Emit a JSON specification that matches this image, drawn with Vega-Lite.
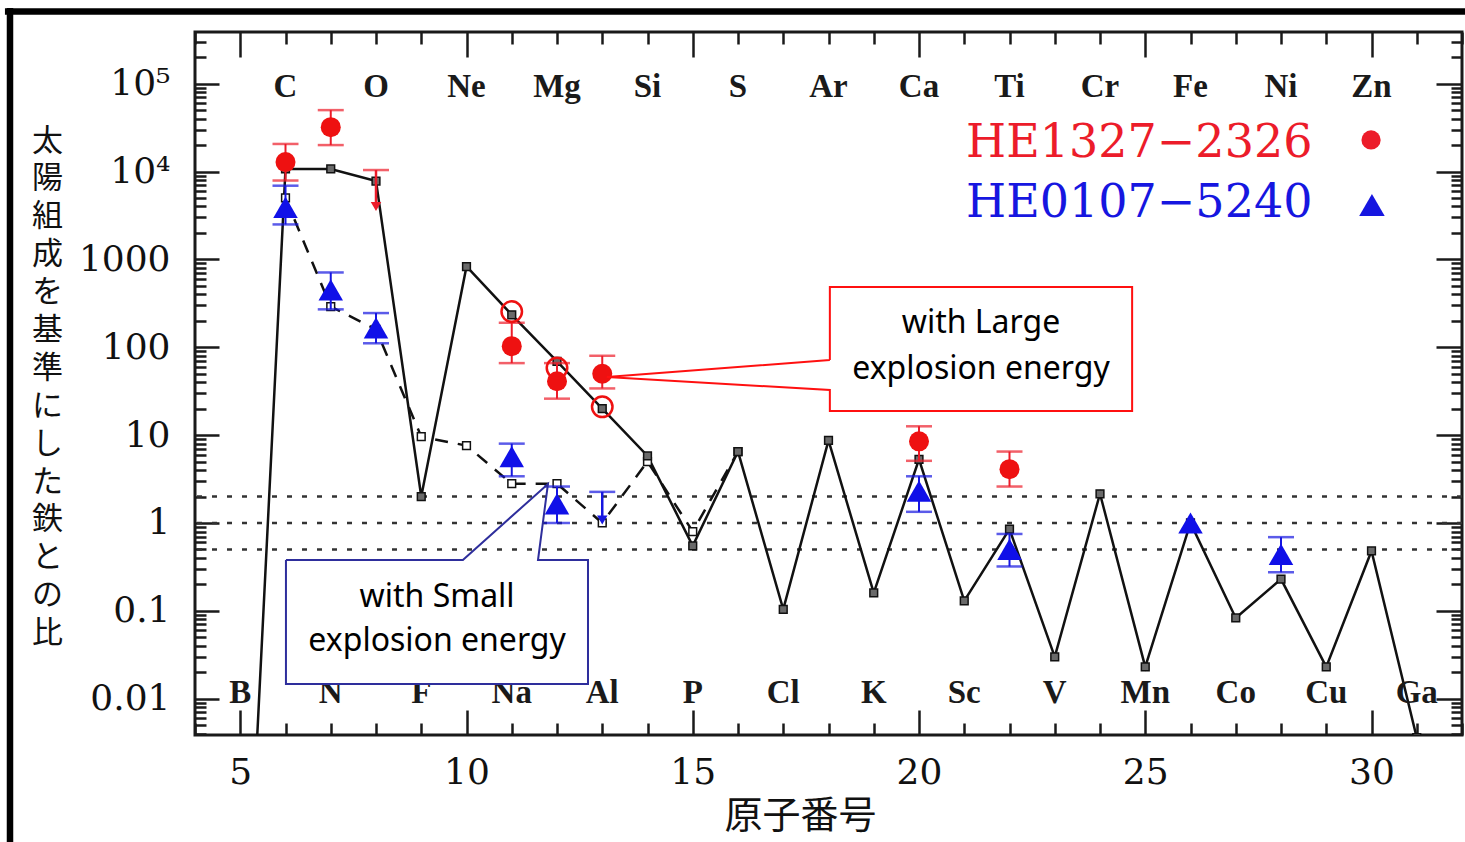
{
  "$schema": "https://vega.github.io/schema/vega-lite/v6.json",
  "width": 1267,
  "height": 703,
  "autosize": "none",
  "padding": {"left": 195, "top": 32, "right": 3, "bottom": 107},
  "background": "white",
  "config": {"view": {"stroke": "#1a1a1a", "strokeWidth": 3}},
  "datasets": {
    "hl": [{"v": 2}, {"v": 1}, {"v": 0.5}],
    "model": [
      {"Z": 6, "v": 5000, "m": "small"}, {"Z": 7, "v": 290, "m": "small"},
      {"Z": 8, "v": 160, "m": "small"}, {"Z": 9, "v": 9.6, "m": "small"}, {"Z": 10, "v": 7.6, "m": "small"},
      {"Z": 11, "v": 2.8, "m": "small"}, {"Z": 12, "v": 2.8, "m": "small"}, {"Z": 13, "v": 1.0, "m": "small"},
      {"Z": 14, "v": 5.0, "m": "small"}, {"Z": 15, "v": 0.8, "m": "small"}, {"Z": 16, "v": 6.5, "m": "small"},
      {"Z": 5, "v": 5e-7, "m": "large"}, {"Z": 6, "v": 10700, "m": "large"}, {"Z": 7, "v": 10700, "m": "large"},
      {"Z": 8, "v": 7800, "m": "large"}, {"Z": 9, "v": 2.0, "m": "large"}, {"Z": 10, "v": 830, "m": "large"},
      {"Z": 11, "v": 234, "m": "large"}, {"Z": 12, "v": 69, "m": "large"}, {"Z": 13, "v": 20, "m": "large"},
      {"Z": 14, "v": 5.8, "m": "large"}, {"Z": 15, "v": 0.55, "m": "large"}, {"Z": 16, "v": 6.5, "m": "large"},
      {"Z": 17, "v": 0.104, "m": "large"}, {"Z": 18, "v": 8.7, "m": "large"}, {"Z": 19, "v": 0.16, "m": "large"},
      {"Z": 20, "v": 5.3, "m": "large"}, {"Z": 21, "v": 0.13, "m": "large"}, {"Z": 22, "v": 0.85, "m": "large"},
      {"Z": 23, "v": 0.030, "m": "large"}, {"Z": 24, "v": 2.15, "m": "large"}, {"Z": 25, "v": 0.023, "m": "large"},
      {"Z": 26, "v": 1.0, "m": "large"}, {"Z": 27, "v": 0.083, "m": "large"}, {"Z": 28, "v": 0.23, "m": "large"},
      {"Z": 29, "v": 0.023, "m": "large"}, {"Z": 30, "v": 0.48, "m": "large"}, {"Z": 31, "v": 0.0036, "m": "large"}
    ],
    "obs": [
      {"Z": 6, "v": 12800, "lo": 7900, "hi": 20600, "star": "HE1327-2326", "kind": "det"},
      {"Z": 7, "v": 32000, "lo": 20000, "hi": 50000, "star": "HE1327-2326", "kind": "det"},
      {"Z": 8, "v": 10400, "tip": 4000, "star": "HE1327-2326", "kind": "upper"},
      {"Z": 11, "v": 103, "lo": 66, "hi": 190, "star": "HE1327-2326", "kind": "det"},
      {"Z": 12, "v": 41, "lo": 26, "hi": 66, "star": "HE1327-2326", "kind": "det"},
      {"Z": 13, "v": 50, "lo": 34, "hi": 80, "star": "HE1327-2326", "kind": "det"},
      {"Z": 20, "v": 8.5, "lo": 5.1, "hi": 12.6, "star": "HE1327-2326", "kind": "det"},
      {"Z": 22, "v": 4.1, "lo": 2.6, "hi": 6.5, "star": "HE1327-2326", "kind": "det"},
      {"Z": 11, "v": 255, "star": "HE1327-2326", "kind": "alt"},
      {"Z": 12, "v": 58, "star": "HE1327-2326", "kind": "alt"},
      {"Z": 13, "v": 21, "star": "HE1327-2326", "kind": "alt"},
      {"Z": 6, "v": 3900, "lo": 2500, "hi": 6900, "star": "HE0107-5240", "kind": "det"},
      {"Z": 7, "v": 450, "lo": 270, "hi": 710, "star": "HE0107-5240", "kind": "det"},
      {"Z": 8, "v": 166, "lo": 111, "hi": 245, "star": "HE0107-5240", "kind": "det"},
      {"Z": 11, "v": 5.7, "lo": 3.4, "hi": 8.0, "star": "HE0107-5240", "kind": "det"},
      {"Z": 12, "v": 1.65, "lo": 1.0, "hi": 2.6, "star": "HE0107-5240", "kind": "det"},
      {"Z": 13, "v": 2.26, "tip": 1.08, "star": "HE0107-5240", "kind": "upper"},
      {"Z": 20, "v": 2.3, "lo": 1.34, "hi": 3.4, "star": "HE0107-5240", "kind": "det"},
      {"Z": 22, "v": 0.50, "lo": 0.32, "hi": 0.75, "star": "HE0107-5240", "kind": "det"},
      {"Z": 26, "v": 1.0, "star": "HE0107-5240", "kind": "det"},
      {"Z": 28, "v": 0.44, "lo": 0.275, "hi": 0.69, "star": "HE0107-5240", "kind": "det"}
    ],
    "elements": [
      {"Z": 6, "el": "C", "row": "top"}, {"Z": 8, "el": "O", "row": "top"}, {"Z": 10, "el": "Ne", "row": "top"},
      {"Z": 12, "el": "Mg", "row": "top"}, {"Z": 14, "el": "Si", "row": "top"}, {"Z": 16, "el": "S", "row": "top"},
      {"Z": 18, "el": "Ar", "row": "top"}, {"Z": 20, "el": "Ca", "row": "top"}, {"Z": 22, "el": "Ti", "row": "top"},
      {"Z": 24, "el": "Cr", "row": "top"}, {"Z": 26, "el": "Fe", "row": "top"}, {"Z": 28, "el": "Ni", "row": "top"},
      {"Z": 30, "el": "Zn", "row": "top"},
      {"Z": 5, "el": "B", "row": "bottom"}, {"Z": 7, "el": "N", "row": "bottom"}, {"Z": 9, "el": "F", "row": "bottom"},
      {"Z": 11, "el": "Na", "row": "bottom"}, {"Z": 13, "el": "Al", "row": "bottom"}, {"Z": 15, "el": "P", "row": "bottom"},
      {"Z": 17, "el": "Cl", "row": "bottom"}, {"Z": 19, "el": "K", "row": "bottom"}, {"Z": 21, "el": "Sc", "row": "bottom"},
      {"Z": 23, "el": "V", "row": "bottom"}, {"Z": 25, "el": "Mn", "row": "bottom"}, {"Z": 27, "el": "Co", "row": "bottom"},
      {"Z": 29, "el": "Cu", "row": "bottom"}, {"Z": 31, "el": "Ga", "row": "bottom"}
    ],
    "boxes": [
      {"box": "large", "Z": 18.03, "Z2": 24.71, "v": 18.8, "v2": 486},
      {"box": "small", "Z": 6.01, "Z2": 12.685, "v": 0.01471, "v2": 0.379}
    ],
    "callouts": [
      {"box": "large", "o": 0, "Z": 18.03, "v": 71.7}, {"box": "large", "o": 1, "Z": 18.03, "v": 486},
      {"box": "large", "o": 2, "Z": 24.71, "v": 486}, {"box": "large", "o": 3, "Z": 24.71, "v": 18.8},
      {"box": "large", "o": 4, "Z": 18.03, "v": 18.8}, {"box": "large", "o": 5, "Z": 18.03, "v": 32.6},
      {"box": "large", "o": 6, "Z": 13.1, "v": 45.9}, {"box": "large", "o": 7, "Z": 18.03, "v": 71.7},
      {"box": "small", "o": 0, "Z": 6.01, "v": 0.379}, {"box": "small", "o": 1, "Z": 9.92, "v": 0.379},
      {"box": "small", "o": 2, "Z": 11.8, "v": 2.78}, {"box": "small", "o": 3, "Z": 11.58, "v": 0.379},
      {"box": "small", "o": 4, "Z": 12.685, "v": 0.379}, {"box": "small", "o": 5, "Z": 12.685, "v": 0.01471},
      {"box": "small", "o": 6, "Z": 6.01, "v": 0.01471}, {"box": "small", "o": 7, "Z": 6.01, "v": 0.379}
    ],
    "notes": [
      {"text": "with Large", "Z": 21.37, "v": 145.5},
      {"text": "explosion energy", "Z": 21.37, "v": 43.5},
      {"text": "with Small", "Z": 9.35, "v": 0.1106},
      {"text": "explosion energy", "Z": 9.35, "v": 0.0349}
    ],
    "legend": [
      {"star": "HE1327-2326", "label": "HE1327−2326", "Z": 21.04, "v": 14650, "Zs": 29.99, "vs": 22870},
      {"star": "HE0107-5240", "label": "HE0107−5240", "Z": 21.04, "v": 3040, "Zs": 30.01, "vs": 4160}
    ],
    "frame": [{"side": "top"}]
  },
  "layer": [
    {
      "data": {"name": "hl"},
      "mark": {"type": "rule", "strokeDash": [5, 10], "strokeWidth": 2.5, "color": "#333"},
      "encoding": {
        "y": {"field": "v", "type": "quantitative", "scale": {"type": "log", "domain": [0.003864, 387300], "nice": false}, "axis": null}
      }
    },
    {
      "data": {"name": "model"},
      "transform": [{"filter": "datum.m == 'large'"}],
      "mark": {"type": "line", "color": "#111", "strokeWidth": 2.5, "clip": true},
      "encoding": {
        "x": {"field": "Z", "type": "quantitative", "scale": {"domain": [4, 32], "nice": false, "zero": false},
          "axis": {"orient": "bottom", "values": [4,5,6,7,8,9,10,11,12,13,14,15,16,17,18,19,20,21,22,23,24,25,26,27,28,29,30,31,32],
            "domain": false, "grid": false,
            "tickSize": {"condition": {"test": "datum.value % 5 == 0", "value": -25}, "value": -12},
            "tickColor": "#1a1a1a", "tickWidth": 2.5,
            "labelExpr": "datum.value % 5 == 0 ? datum.label : ''",
            "labelFont": "DejaVu Serif", "labelFontSize": 36, "labelColor": "#111", "labelPadding": 45,
            "labelOverlap": false, "labelFlush": false,
            "title": "原子番号", "titleFont": "Noto Sans CJK JP", "titleFontSize": 38, "titleFontWeight": "normal",
            "titleColor": "#111", "titleX": 605, "titleY": 92, "titleAlign": "center", "titleBaseline": "alphabetic"}},
        "y": {"field": "v", "type": "quantitative", "scale": {"type": "log", "domain": [0.003864, 387300], "nice": false},
          "axis": {"orient": "left",
            "values": [0.004,0.005,0.006,0.007,0.008,0.009,0.01,0.02,0.03,0.04,0.05,0.06,0.07,0.08,0.09,0.1,0.2,0.3,0.4,0.5,0.6,0.7,0.8,0.9,1,2,3,4,5,6,7,8,9,10,20,30,40,50,60,70,80,90,100,200,300,400,500,600,700,800,900,1000,2000,3000,4000,5000,6000,7000,8000,9000,10000,20000,30000,40000,50000,60000,70000,80000,90000,100000,200000,300000],
            "domain": false, "grid": false,
            "tickSize": {"condition": {"test": "abs(log(datum.value)/LN10 - round(log(datum.value)/LN10)) < 0.01", "value": -24}, "value": -11},
            "tickColor": "#1a1a1a", "tickWidth": 2.5,
            "labelExpr": "abs(log(datum.value)/LN10 - round(log(datum.value)/LN10)) < 0.01 ? (datum.value > 5000 ? (datum.value > 50000 ? '10⁵' : '10⁴') : format(datum.value, '~g')) : ''",
            "labelFont": "DejaVu Serif", "labelFontSize": 36, "labelColor": "#111", "labelPadding": 49,
            "labelOverlap": false, "labelFlush": false, "labelBaseline": "middle",
            "title": ["太","陽","組","成","を","基","準","に","し","た","鉄","と","の","比"],
            "titleFont": "Noto Sans CJK JP", "titleFontSize": 31, "titleFontWeight": "normal", "titleColor": "#111",
            "titleAngle": 0, "titleX": -148, "titleY": 94, "titleAlign": "center", "titleBaseline": "top", "titleLineHeight": 37.9}}
      }
    },
    {
      "data": {"name": "model"},
      "transform": [{"filter": "datum.m == 'small'"}],
      "mark": {"type": "line", "color": "#111", "strokeWidth": 2.5, "strokeDash": [13, 10], "clip": true},
      "encoding": {
        "x": {"field": "Z", "type": "quantitative", "scale": {"domain": [4, 32], "nice": false, "zero": false},
          "axis": {"orient": "top", "values": [4,5,6,7,8,9,10,11,12,13,14,15,16,17,18,19,20,21,22,23,24,25,26,27,28,29,30,31,32],
            "domain": false, "grid": false, "labels": false, "title": null,
            "tickSize": {"condition": {"test": "datum.value % 5 == 0", "value": -25}, "value": -12},
            "tickColor": "#1a1a1a", "tickWidth": 2.5}},
        "y": {"field": "v", "type": "quantitative", "scale": {"type": "log", "domain": [0.003864, 387300], "nice": false},
          "axis": {"orient": "right",
            "values": [0.004,0.005,0.006,0.007,0.008,0.009,0.01,0.02,0.03,0.04,0.05,0.06,0.07,0.08,0.09,0.1,0.2,0.3,0.4,0.5,0.6,0.7,0.8,0.9,1,2,3,4,5,6,7,8,9,10,20,30,40,50,60,70,80,90,100,200,300,400,500,600,700,800,900,1000,2000,3000,4000,5000,6000,7000,8000,9000,10000,20000,30000,40000,50000,60000,70000,80000,90000,100000,200000,300000],
            "domain": false, "grid": false, "labels": false, "title": null,
            "tickSize": {"condition": {"test": "abs(log(datum.value)/LN10 - round(log(datum.value)/LN10)) < 0.01", "value": -26}, "value": -11},
            "tickColor": "#1a1a1a", "tickWidth": 2.5}}
      }
    },
    {
      "data": {"name": "model"},
      "mark": {"type": "point", "shape": "square", "size": 60, "filled": true, "stroke": "#111", "strokeWidth": 1.5, "opacity": 1, "clip": true},
      "encoding": {
        "x": {"field": "Z", "type": "quantitative", "scale": {"domain": [4, 32], "nice": false, "zero": false}, "axis": null},
        "y": {"field": "v", "type": "quantitative", "scale": {"type": "log", "domain": [0.003864, 387300], "nice": false}, "axis": null},
        "fill": {"field": "m", "type": "nominal", "scale": {"domain": ["large", "small"], "range": ["#6a6a6a", "#ffffff"]}, "legend": null}
      }
    },
    {
      "data": {"name": "obs"},
      "transform": [{"filter": "datum.kind == 'det' && isValid(datum.lo)"}],
      "mark": {"type": "rule", "strokeWidth": 2},
      "encoding": {
        "x": {"field": "Z", "type": "quantitative", "scale": {"domain": [4, 32], "nice": false, "zero": false}, "axis": null},
        "y": {"field": "lo", "type": "quantitative", "scale": {"type": "log", "domain": [0.003864, 387300], "nice": false}, "axis": null},
        "y2": {"field": "hi"},
        "color": {"field": "star", "type": "nominal", "scale": {"domain": ["HE1327-2326", "HE0107-5240"], "range": ["#ec1c2a", "#1616e0"]}, "legend": null}
      }
    },
    {
      "data": {"name": "obs"},
      "transform": [{"filter": "datum.kind == 'det' && isValid(datum.lo)"}, {"fold": ["lo", "hi"], "as": ["k", "cap"]}],
      "mark": {"type": "tick", "orient": "horizontal", "size": 26, "thickness": 2.5},
      "encoding": {
        "x": {"field": "Z", "type": "quantitative", "scale": {"domain": [4, 32], "nice": false, "zero": false}, "axis": null},
        "y": {"field": "cap", "type": "quantitative", "scale": {"type": "log", "domain": [0.003864, 387300], "nice": false}, "axis": null},
        "color": {"field": "star", "type": "nominal", "scale": {"domain": ["HE1327-2326", "HE0107-5240"], "range": ["#ec1c2a", "#1616e0"]}, "legend": null}
      }
    },
    {
      "data": {"name": "obs"},
      "transform": [{"filter": "datum.kind == 'upper'"}],
      "mark": {"type": "rule", "strokeWidth": 2.5},
      "encoding": {
        "x": {"field": "Z", "type": "quantitative", "scale": {"domain": [4, 32], "nice": false, "zero": false}, "axis": null},
        "y": {"field": "v", "type": "quantitative", "scale": {"type": "log", "domain": [0.003864, 387300], "nice": false}, "axis": null},
        "y2": {"field": "tip"},
        "color": {"field": "star", "type": "nominal", "scale": {"domain": ["HE1327-2326", "HE0107-5240"], "range": ["#ec1c2a", "#1616e0"]}, "legend": null}
      }
    },
    {
      "data": {"name": "obs"},
      "transform": [{"filter": "datum.kind == 'upper'"}],
      "mark": {"type": "tick", "orient": "horizontal", "size": 26, "thickness": 2.5},
      "encoding": {
        "x": {"field": "Z", "type": "quantitative", "scale": {"domain": [4, 32], "nice": false, "zero": false}, "axis": null},
        "y": {"field": "v", "type": "quantitative", "scale": {"type": "log", "domain": [0.003864, 387300], "nice": false}, "axis": null},
        "color": {"field": "star", "type": "nominal", "scale": {"domain": ["HE1327-2326", "HE0107-5240"], "range": ["#ec1c2a", "#1616e0"]}, "legend": null}
      }
    },
    {
      "data": {"name": "obs"},
      "transform": [{"filter": "datum.kind == 'upper'"}],
      "mark": {"type": "point", "shape": "triangle-down", "size": 110, "filled": true, "opacity": 1},
      "encoding": {
        "x": {"field": "Z", "type": "quantitative", "scale": {"domain": [4, 32], "nice": false, "zero": false}, "axis": null},
        "y": {"field": "tip", "type": "quantitative", "scale": {"type": "log", "domain": [0.003864, 387300], "nice": false}, "axis": null},
        "color": {"field": "star", "type": "nominal", "scale": {"domain": ["HE1327-2326", "HE0107-5240"], "range": ["#ec1c2a", "#1616e0"]}, "legend": null}
      }
    },
    {
      "data": {"name": "obs"},
      "transform": [{"filter": "datum.kind == 'det' && datum.star == 'HE1327-2326'"}],
      "mark": {"type": "point", "shape": "circle", "size": 400, "filled": true, "opacity": 1, "color": "#ee1111"},
      "encoding": {
        "x": {"field": "Z", "type": "quantitative", "scale": {"domain": [4, 32], "nice": false, "zero": false}, "axis": null},
        "y": {"field": "v", "type": "quantitative", "scale": {"type": "log", "domain": [0.003864, 387300], "nice": false}, "axis": null}
      }
    },
    {
      "data": {"name": "obs"},
      "transform": [{"filter": "datum.kind == 'det' && datum.star == 'HE0107-5240'"}],
      "mark": {"type": "point", "shape": "triangle-up", "size": 600, "filled": true, "opacity": 1, "color": "#1010e8"},
      "encoding": {
        "x": {"field": "Z", "type": "quantitative", "scale": {"domain": [4, 32], "nice": false, "zero": false}, "axis": null},
        "y": {"field": "v", "type": "quantitative", "scale": {"type": "log", "domain": [0.003864, 387300], "nice": false}, "axis": null}
      }
    },
    {
      "data": {"name": "obs"},
      "transform": [{"filter": "datum.kind == 'alt'"}],
      "mark": {"type": "point", "shape": "circle", "size": 420, "filled": false, "opacity": 1, "stroke": "#ee1111", "strokeWidth": 2.5},
      "encoding": {
        "x": {"field": "Z", "type": "quantitative", "scale": {"domain": [4, 32], "nice": false, "zero": false}, "axis": null},
        "y": {"field": "v", "type": "quantitative", "scale": {"type": "log", "domain": [0.003864, 387300], "nice": false}, "axis": null}
      }
    },
    {
      "data": {"name": "elements"},
      "transform": [{"filter": "datum.row == 'top'"}],
      "mark": {"type": "text", "font": "Liberation Serif", "fontWeight": "bold", "fontSize": 33, "color": "#1a1a1a", "baseline": "alphabetic", "align": "center"},
      "encoding": {
        "x": {"field": "Z", "type": "quantitative", "scale": {"domain": [4, 32], "nice": false, "zero": false}, "axis": null},
        "y": {"datum": 70600, "type": "quantitative", "scale": {"type": "log", "domain": [0.003864, 387300], "nice": false}, "axis": null},
        "text": {"field": "el"}
      }
    },
    {
      "data": {"name": "elements"},
      "transform": [{"filter": "datum.row == 'bottom'"}],
      "mark": {"type": "text", "font": "Liberation Serif", "fontWeight": "bold", "fontSize": 33, "color": "#1a1a1a", "baseline": "alphabetic", "align": "center"},
      "encoding": {
        "x": {"field": "Z", "type": "quantitative", "scale": {"domain": [4, 32], "nice": false, "zero": false}, "axis": null},
        "y": {"datum": 0.00893, "type": "quantitative", "scale": {"type": "log", "domain": [0.003864, 387300], "nice": false}, "axis": null},
        "text": {"field": "el"}
      }
    },
    {
      "data": {"name": "boxes"},
      "mark": {"type": "rect", "fill": "white", "strokeWidth": 0},
      "encoding": {
        "x": {"field": "Z", "type": "quantitative", "scale": {"domain": [4, 32], "nice": false, "zero": false}, "axis": null},
        "x2": {"field": "Z2"},
        "y": {"field": "v", "type": "quantitative", "scale": {"type": "log", "domain": [0.003864, 387300], "nice": false}, "axis": null},
        "y2": {"field": "v2"}
      }
    },
    {
      "data": {"name": "callouts"},
      "mark": {"type": "line", "strokeWidth": 2, "strokeJoin": "miter"},
      "encoding": {
        "x": {"field": "Z", "type": "quantitative", "scale": {"domain": [4, 32], "nice": false, "zero": false}, "axis": null},
        "y": {"field": "v", "type": "quantitative", "scale": {"type": "log", "domain": [0.003864, 387300], "nice": false}, "axis": null},
        "order": {"field": "o", "type": "quantitative"},
        "detail": {"field": "box", "type": "nominal"},
        "stroke": {"field": "box", "type": "nominal", "scale": {"domain": ["large", "small"], "range": ["#ff1010", "#2e2e9c"]}, "legend": null}
      }
    },
    {
      "data": {"name": "notes"},
      "mark": {"type": "text", "font": "Noto Sans", "fontSize": 32, "color": "#000", "baseline": "alphabetic", "align": "center"},
      "encoding": {
        "x": {"field": "Z", "type": "quantitative", "scale": {"domain": [4, 32], "nice": false, "zero": false}, "axis": null},
        "y": {"field": "v", "type": "quantitative", "scale": {"type": "log", "domain": [0.003864, 387300], "nice": false}, "axis": null},
        "text": {"field": "text"}
      }
    },
    {
      "data": {"name": "legend"},
      "mark": {"type": "text", "font": "DejaVu Serif", "fontSize": 46, "baseline": "alphabetic", "align": "left"},
      "encoding": {
        "x": {"field": "Z", "type": "quantitative", "scale": {"domain": [4, 32], "nice": false, "zero": false}, "axis": null},
        "y": {"field": "v", "type": "quantitative", "scale": {"type": "log", "domain": [0.003864, 387300], "nice": false}, "axis": null},
        "text": {"field": "label"},
        "color": {"field": "star", "type": "nominal", "scale": {"domain": ["HE1327-2326", "HE0107-5240"], "range": ["#ec1c2a", "#1616e0"]}, "legend": null}
      }
    },
    {
      "data": {"name": "legend"},
      "mark": {"type": "point", "filled": true, "opacity": 1},
      "encoding": {
        "x": {"field": "Zs", "type": "quantitative", "scale": {"domain": [4, 32], "nice": false, "zero": false}, "axis": null},
        "y": {"field": "vs", "type": "quantitative", "scale": {"type": "log", "domain": [0.003864, 387300], "nice": false}, "axis": null},
        "shape": {"field": "star", "type": "nominal", "scale": {"domain": ["HE1327-2326", "HE0107-5240"], "range": ["circle", "triangle-up"]}, "legend": null},
        "size": {"field": "star", "type": "nominal", "scale": {"domain": ["HE1327-2326", "HE0107-5240"], "range": [370, 650]}, "legend": null},
        "color": {"field": "star", "type": "nominal", "scale": {"domain": ["HE1327-2326", "HE0107-5240"], "range": ["#ec1c2a", "#1616e0"]}, "legend": null}
      }
    },
    {
      "data": {"name": "frame"},
      "mark": {"type": "rule", "color": "#000", "strokeWidth": 6.5},
      "encoding": {
        "x": {"datum": -0.2, "type": "quantitative", "scale": {"domain": [4, 32], "nice": false, "zero": false}, "axis": null},
        "x2": {"datum": 33},
        "y": {"datum": 663000, "type": "quantitative", "scale": {"type": "log", "domain": [0.003864, 387300], "nice": false}, "axis": null}
      }
    },
    {
      "data": {"name": "frame"},
      "mark": {"type": "rule", "color": "#000", "strokeWidth": 6.5},
      "encoding": {
        "x": {"datum": -0.0884, "type": "quantitative", "scale": {"domain": [4, 32], "nice": false, "zero": false}, "axis": null},
        "y": {"datum": 727000, "type": "quantitative", "scale": {"type": "log", "domain": [0.003864, 387300], "nice": false}, "axis": null},
        "y2": {"datum": 0.00019}
      }
    }
  ],
  "resolve": {"axis": {"x": "independent", "y": "independent"}}
}
